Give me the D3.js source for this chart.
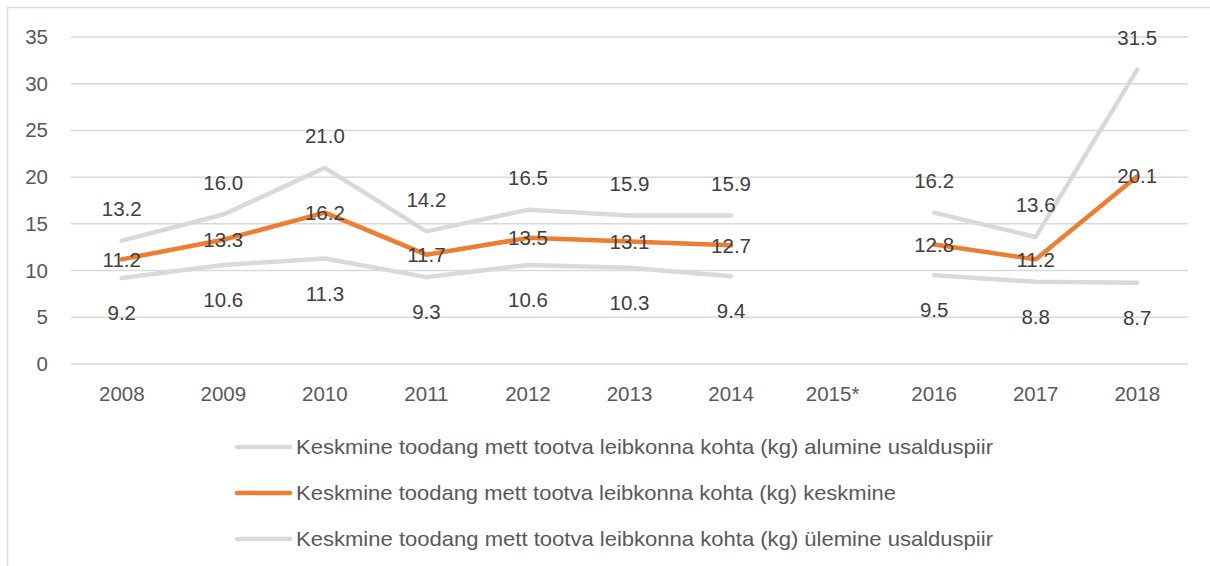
<!DOCTYPE html>
<html><head><meta charset="utf-8">
<script src="https://cdn.jsdelivr.net/npm/d3@7"></script>
<style>body{margin:0;background:#fff}svg{display:block}text{font-family:"Liberation Sans",Arial,sans-serif}</style>
</head><body><svg id="c" width="1210" height="566"></svg>
<script>
const years = ["2008","2009","2010","2011","2012","2013","2014","2015*","2016","2017","2018"];
const lower = [9.2,10.6,11.3,9.3,10.6,10.3,9.4,null,9.5,8.8,8.7];
const mean  = [11.2,13.3,16.2,11.7,13.5,13.1,12.7,null,12.8,11.2,20.1];
const upper = [13.2,16.0,21.0,14.2,16.5,15.9,15.9,null,16.2,13.6,31.5];
const yTicks = [0,5,10,15,20,25,30,35];
const legendNames = [
  "Keskmine toodang mett tootva leibkonna kohta (kg) alumine usalduspiir",
  "Keskmine toodang mett tootva leibkonna kohta (kg) keskmine",
  "Keskmine toodang mett tootva leibkonna kohta (kg) ülemine usalduspiir"
];

const svg = d3.select("#c");
svg.append("rect").attr("x",7.5).attr("y",7.5).attr("width",1220).attr("height",600)
  .attr("fill","#fff").attr("stroke","#d9d9d9").attr("stroke-width",1.5);

const x = d3.scaleBand().domain(years).range([71,1188]);
const y = d3.scaleLinear().domain([0,35]).range([364,37]);
const cx = d => x(d)+x.bandwidth()/2;

svg.append("g").selectAll("line").data(yTicks).join("line")
  .attr("x1",71).attr("x2",1188).attr("y1",d=>y(d)).attr("y2",d=>y(d))
  .attr("stroke","#d9d9d9").attr("stroke-width",1.5);

const yAx = svg.append("g").attr("transform","translate(48,0)")
  .call(d3.axisLeft(y).tickValues(yTicks).tickSize(0).tickPadding(0));
yAx.select(".domain").remove();
yAx.selectAll("text").attr("fill","#595959").attr("font-size",20.5).attr("font-family","Liberation Sans");

const xAx = svg.append("g").attr("transform","translate(0,364)")
  .call(d3.axisBottom(x).tickSize(0).tickPadding(22));
xAx.select(".domain").remove();
xAx.selectAll("text").attr("fill","#595959").attr("font-size",20.5).attr("font-family","Liberation Sans");

const line = d3.line().defined(d=>d.v!=null).x(d=>cx(d.k)).y(d=>y(d.v));
const series = [
  {vals:lower,color:"#d9d9d9",pos:"below"},
  {vals:upper,color:"#d9d9d9",pos:"above"},
  {vals:mean,color:"#ed7d31",pos:"center"}
];
series.forEach(s=>{
  const pts = years.map((k,i)=>({k,v:s.vals[i]}));
  svg.append("path").datum(pts).attr("d",line).attr("fill","none")
    .attr("stroke",s.color).attr("stroke-width",4.5).attr("stroke-linejoin","round").attr("stroke-linecap","round");
});
series.forEach(s=>{
  const pts = years.map((k,i)=>({k,v:s.vals[i]})).filter(d=>d.v!=null);
  svg.append("g").selectAll("text").data(pts).join("text")
    .attr("x",d=>cx(d.k))
    .attr("y",d=>y(d.v)+(s.pos==="above"?-32:s.pos==="below"?35:0))
    .attr("dy","0.35em").attr("text-anchor","middle")
    .attr("fill","#404040").attr("font-size",20.5)
    .text(d=>d.v.toFixed(1));
});

const lg = svg.append("g");
const lColors = ["#d9d9d9","#ed7d31","#d9d9d9"];
legendNames.forEach((n,i)=>{
  const yy = 447+i*46;
  lg.append("line").attr("x1",237).attr("x2",290).attr("y1",yy).attr("y2",yy)
    .attr("stroke",lColors[i]).attr("stroke-width",4.5).attr("stroke-linecap","round");
  const t = lg.append("text").attr("x",296).attr("y",yy).attr("dy","0.35em")
    .attr("fill","#595959").attr("font-size",21).text(n);
  const target = i===1 ? 600 : 697;
  t.attr("textLength",target).attr("lengthAdjust","spacingAndGlyphs");
});
</script></body></html>
